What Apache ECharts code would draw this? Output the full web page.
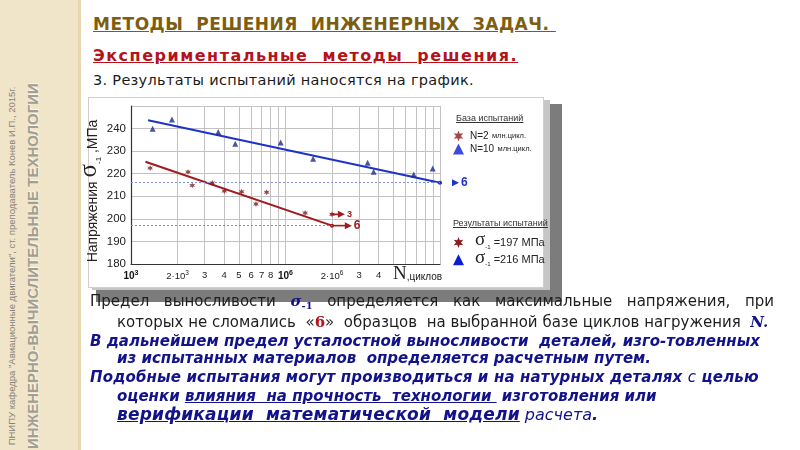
<!DOCTYPE html>
<html><head><meta charset="utf-8">
<script src="https://cdn.jsdelivr.net/npm/echarts@6/dist/echarts.min.js"></script>
<style>
html,body{margin:0;padding:0;}
body{width:800px;height:450px;overflow:hidden;background:#fff;position:relative;font-family:"DejaVu Sans",sans-serif;}
.abs{position:absolute;white-space:pre;}
.strip{position:absolute;left:0;top:0;width:78px;height:450px;background:#f0e5c9;border-right:3px solid #e6d7b0;}
.vt{position:absolute;text-align:center;transform:rotate(-90deg);white-space:nowrap;font-family:"Liberation Sans";}
.vt1{left:-168px;top:260px;width:360px;height:12px;line-height:12px;font-size:9.5px;color:#85827a;}
.vt2{left:-147px;top:259px;width:360px;height:20px;line-height:20px;font-size:15px;font-weight:bold;color:#a39e93;text-shadow:1px 1px 0 #fbf6e8;}
.shadowD{position:absolute;left:96px;top:104px;width:466px;height:198px;background:#7c7c7c;}
.shadowL{position:absolute;left:92px;top:100px;width:458px;height:190px;background:#c6c6c6;}
.panel{position:absolute;left:88px;top:97px;width:454px;height:189px;background:#fff;border:1px solid #cfcfcf;}
#chart{position:absolute;left:0;top:0;width:800px;height:450px;}
.t1{left:93px;top:14px;line-height:20px;font-size:17px;font-weight:bold;color:#7d5e10;text-decoration:underline;letter-spacing:0.5px;}
.t2{left:93px;top:46px;line-height:20px;font-size:16px;font-weight:bold;color:#b5121b;text-decoration:underline;letter-spacing:1.5px;}
.t3{left:93px;top:71px;line-height:18px;font-size:14.5px;color:#1a1a1a;letter-spacing:0.3px;}
.lh{position:absolute;font-family:"Liberation Sans";font-size:9px;color:#333;text-decoration:underline;white-space:pre;line-height:12px;}
.reg{font-size:15px;color:#1e1e1e;line-height:18px;}
.bi{font-size:15px;font-weight:bold;font-style:italic;color:#12128a;line-height:18px;}
.sig{font-family:"DejaVu Serif";font-weight:bold;font-style:italic;color:#12128a;}
.sig sub{font-size:10px;font-style:normal;vertical-align:-3px;}
.r6{font-family:"DejaVu Serif";font-weight:bold;color:#b5121b;}
.ni{font-weight:normal;}
.ul{text-decoration:underline;}
</style></head><body>
<div class="strip"></div>
<div class="vt vt1">ПНИПУ кафедра "Авиационные двигатели", ст. преподаватель Конев И.П., 2015г.</div>
<div class="vt vt2">ИНЖЕНЕРНО-ВЫЧИСЛИТЕЛЬНЫЕ ТЕХНОЛОГИИ</div>
<div class="abs t1">МЕТОДЫ  РЕШЕНИЯ  ИНЖЕНЕРНЫХ  ЗАДАЧ. </div>
<div class="abs t2">Экспериментальные  методы  решения.</div>
<div class="abs t3">3. Результаты испытаний наносятся на график.</div>
<div class="shadowD"></div>
<div class="shadowL"></div>
<div class="panel"></div>
<div id="chart"></div>
<div class="lh" style="left:456px;top:112px;">База испытаний</div>
<div class="lh" style="left:453px;top:217px;">Результаты испытаний</div>
<div class="abs reg" style="left:90px;top:292px;width:684px;white-space:nowrap;text-align:justify;text-align-last:justify;">Предел выносливости <span class="sig">σ<sub>-1</sub></span> определяется как максимальные напряжения, при</div>
<div class="abs reg" style="left:117px;top:313px;">которых не сломались  «<span class="r6">6</span>»  образцов  на выбранной базе циклов нагружения  <span class="sig">N.</span></div>
<div class="abs bi" style="left:90px;top:332px;">В дальнейшем предел усталостной выносливости  деталей, изго-товленных</div>
<div class="abs bi" style="left:117px;top:349px;">из испытанных материалов  определяется расчетным путем.</div>
<div class="abs bi" style="left:90px;top:368px;letter-spacing:0.15px;">Подобные испытания могут производиться и на натурных деталях <span class="ni">с</span> целью</div>
<div class="abs bi" style="left:117px;top:387px;">оценки <span class="ul">влияния  на прочность  технологии </span> изготовления или</div>
<div class="abs bi" style="left:117px;top:405px;"><span class="ul" style="font-size:17px;letter-spacing:0.2px;">верификации  математической  модели</span><span class="ni" style="font-size:16px;"> расчета</span><span style="font-size:16px;">.</span></div>
<script>
// ---- data ----
const xGridN = [2e5,3e5,4e5,5e5,6e5,7e5,8e5,9e5,1e6,2e6,3e6,4e6,5e6,6e6,7e6,8e6,9e6,1e7];
const xLabelN = [1e5,2e5,3e5,4e5,5e5,6e5,7e5,8e5,1e6,2e6,3e6,4e6];
const xLabelText = ['10^3','2·10^3','3','4','5','6','7','8','10^6','2·10^6','3','4'];
const yMin = 180, yMax = 250, yStep = 10;

const redN = [1.33e5, 2.34e5, 2.49e5, 3.36e5, 4.02e5, 5.2e5, 6.44e5, 7.55e5, 1.34e6];
const redS = [222.5, 220.8, 214.8, 215.9, 212.3, 212.0, 206.6, 211.8, 202.6];
const blueN = [1.38e5, 1.84e5, 3.67e5, 4.73e5, 9.3e5, 1.51e6, 3.4e6, 3.72e6, 6.76e6, 8.97e6];
const blueS = [239.9, 244.0, 238.5, 233.3, 233.8, 226.6, 224.9, 220.9, 219.7, 222.3];

const redFitN = [1.24e5, 2e6];
const redFitS = [225.3, 197];
const blueFitN = [1.29e5, 1e7];
const blueFitS = [243.7, 216];

const redLimit = 197, blueLimit = 216;
const redLimitN = [1e5, 2e6];
const blueLimitN = [1e5, 1e7];

const redRunoutN = [2e6, 2.3e6];   // runout arrow "3"
const redRunoutS = [202, 202];
const redEndArrowN = [2e6, 2.55e6];  // arrow "6"
const blueEndArrowN = [1e7, 1.26e7]; // arrow "6"
const runoutCounts = ['3', '6', '6'];

const baseNames = ['N=2 млн.цикл.', 'N=10 млн.цикл.'];
const limitNames = ['σ-1 =197 МПа', 'σ-1 =216 МПа'];

// ---- styles ----
const STAR = 'path://M10 0L12.25 6.1L18.66 5L14.5 10L18.66 15L12.25 13.9L10 20L7.75 13.9L1.34 15L5.5 10L1.34 5L7.75 6.1Z';
const RED = '#a01a1e', BLUE = '#1e32c8';
const pair = (xs, ys) => xs.map((x, i) => [x, ys[i]]);

function xFmt(v) {
  let i = xLabelN.findIndex(n => Math.abs(n - v) / n < 1e-6);
  if (i < 0) return '';
  const t = xLabelText[i];
  if (t.indexOf('^') < 0) return '{n|' + t + '}';
  const [base, exp] = t.split('^');
  if (base === '10') return '{b|10}{bs|' + exp + '}';
  return '{n|' + base + '}{s|' + exp + '}';
}

function arrowSeries(xs, ys, color, label, labelSize, startSymbol) {
  return {
    type: 'line', clip: false, silent: true, z: 4,
    lineStyle: { color: color, width: 1.6 },
    itemStyle: { color: color },
    data: [
      { value: [xs[0], ys[0]], symbol: startSymbol, symbolSize: startSymbol === 'circle' ? 4 : 6 },
      { value: [xs[1], ys[1]], symbol: 'triangle', symbolRotate: -90, symbolSize: 7,
        label: { show: true, position: 'right', distance: 2, formatter: label,
                 color: color, fontWeight: 'bold', fontSize: labelSize, fontFamily: 'Liberation Sans' } }
    ]
  };
}

const chart = echarts.init(document.getElementById('chart'));
chart.setOption({
  animation: false,
  backgroundColor: 'transparent',
  grid: { left: 131, right: 360, top: 106, bottom: 186 },
  xAxis: {
    type: 'log', logBase: 10, min: 1e5, max: 1e7,
    axisLine: { lineStyle: { color: '#333', width: 1.2 } },
    axisTick: { show: false, customValues: xGridN },
    splitLine: { show: true, lineStyle: { color: '#c2c2c2', width: 1 } },
    minorSplitLine: { show: false },
    axisLabel: {
      customValues: xLabelN, formatter: xFmt, margin: 6,
      rich: {
        n: { fontSize: 9.5, fontFamily: 'Liberation Sans', color: '#222' },
        s: { fontSize: 6.5, fontFamily: 'Liberation Sans', color: '#222', verticalAlign: 'top', padding: [0, 0, 6, 0] },
        b: { fontSize: 10, fontWeight: 'bold', fontFamily: 'Liberation Sans', color: '#111', padding: [0, 0, 0, 0] },
        bs: { fontSize: 7, fontWeight: 'bold', fontFamily: 'Liberation Sans', color: '#111', verticalAlign: 'top', padding: [0, 0, 6, 0] }
      }
    },
    name: '{N|N}{c|,циклов}', nameLocation: 'end', nameGap: -47,
    nameTextStyle: {
      align: 'left', verticalAlign: 'top', padding: [1, 0, 0, 0],
      rich: {
        N: { fontSize: 19, fontFamily: 'Liberation Serif', color: '#222' },
        c: { fontSize: 10, fontFamily: 'Liberation Sans', color: '#222', padding: [5, 0, 0, 0] }
      }
    }
  },
  yAxis: {
    type: 'value', min: yMin, max: yMax, interval: yStep,
    axisLine: { show: true, lineStyle: { color: '#333', width: 1.2 } },
    axisTick: { show: false },
    splitLine: { lineStyle: { color: '#c2c2c2', width: 1 } },
    axisLabel: { fontSize: 11.5, fontFamily: 'Liberation Sans', color: '#222', margin: 5,
                 formatter: v => (v === yMax ? '' : String(v)) },
    name: '{t|Напряжения }{s|σ}{u|-1}{t| ,МПа}{sp|}',
    nameLocation: 'middle', nameRotate: 90, nameGap: 26,
    nameTextStyle: {
      rich: {
        t: { fontSize: 14, fontFamily: 'Liberation Sans', color: '#222', verticalAlign: 'bottom', padding: [0, 0, 3, 0] },
        s: { fontSize: 25, fontFamily: 'Liberation Serif', color: '#222', verticalAlign: 'bottom', padding: [0, 0, 1, 0] },
        u: { fontSize: 8, fontFamily: 'Liberation Sans', color: '#222', verticalAlign: 'bottom', padding: [0, 0, 0, 0] },
        sp: { width: 12, fontSize: 14 }
      }
    }
  },
  legend: [
    {
      left: 448, top: 125, orient: 'vertical', itemWidth: 11, itemHeight: 11, itemGap: 1,
      selectedMode: false, data: baseNames.map((n, i) => ({ name: n, icon: i === 0 ? STAR : 'triangle',
        itemStyle: { color: i === 0 ? '#8b1a1a' : '#0a1ed2' } })),
      formatter: n => { const k = n.indexOf(' '); return '{a|' + n.slice(0, k) + '} {b|' + n.slice(k + 1) + '}'; },
      textStyle: { rich: {
        a: { fontSize: 10, fontFamily: 'Liberation Sans', color: '#222', padding: [0, 0, 0, 1] },
        b: { fontSize: 7.5, fontFamily: 'Liberation Sans', color: '#222' }
      } }
    },
    {
      left: 448, top: 226, orient: 'vertical', itemWidth: 11, itemHeight: 11, itemGap: -1.8,
      selectedMode: false, data: limitNames.map((n, i) => ({ name: n, icon: i === 0 ? STAR : 'triangle',
        itemStyle: { color: i === 0 ? '#8b1a1a' : '#0a1ed2' } })),
      formatter: n => { const parts = n.split(' '); return '{s|σ}{u|-1}{v| ' + parts.slice(1).join(' ') + '}'; },
      textStyle: { rich: {
        s: { fontSize: 19, lineHeight: 15, fontFamily: 'Liberation Serif', color: '#222', padding: [0, 0, 0, 6], verticalAlign: 'bottom' },
        u: { fontSize: 6, lineHeight: 15, fontFamily: 'Liberation Sans', color: '#222', verticalAlign: 'bottom', padding: [0, 0, 0, 0] },
        v: { fontSize: 11, lineHeight: 15, fontFamily: 'Liberation Sans', color: '#222', verticalAlign: 'bottom', padding: [0, 0, 2, 0] }
      } }
    }
  ],
  series: [
    {
      name: limitNames[0], type: 'line', data: pair(redFitN, redFitS), symbol: 'none', z: 3,
      lineStyle: { color: RED, width: 2 }, itemStyle: { color: RED },
      markLine: { silent: true, symbol: 'none', label: { show: false },
        lineStyle: { type: [2, 2], color: '#c47a7a', width: 1 },
        data: [[{ coord: [redLimitN[0], redLimit] }, { coord: [redLimitN[1], redLimit] }]] }
    },
    {
      name: limitNames[1], type: 'line', data: pair(blueFitN, blueFitS), symbol: 'none', z: 3,
      lineStyle: { color: BLUE, width: 2 }, itemStyle: { color: BLUE },
      markLine: { silent: true, symbol: 'none', label: { show: false },
        lineStyle: { type: [2, 2], color: '#7d90d8', width: 1 },
        data: [[{ coord: [blueLimitN[0], blueLimit] }, { coord: [blueLimitN[1], blueLimit] }]] }
    },
    { name: baseNames[0], type: 'scatter', symbol: STAR, symbolSize: 6, z: 5,
      itemStyle: { color: '#7a1a1a' }, data: pair(redN, redS) },
    { name: baseNames[1], type: 'scatter', symbol: 'triangle', symbolSize: 6, z: 5,
      itemStyle: { color: '#1e2a86' }, data: pair(blueN, blueS) },
    arrowSeries(redRunoutN, redRunoutS, RED, runoutCounts[0], 9, STAR),
    arrowSeries(redEndArrowN, [redLimit, redLimit], RED, runoutCounts[1], 12, 'circle'),
    arrowSeries(blueEndArrowN, [blueLimit, blueLimit], BLUE, runoutCounts[2], 12, 'circle')
  ]
});
</script>
</body></html>
